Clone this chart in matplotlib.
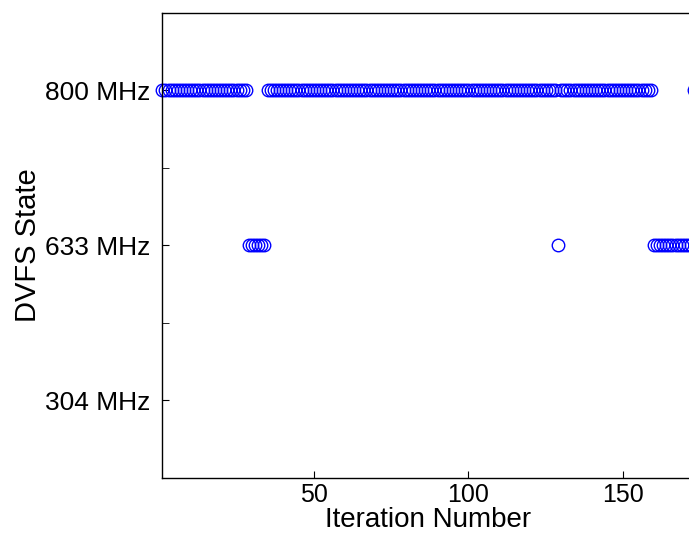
import matplotlib
matplotlib.use("Agg")
import matplotlib.pyplot as plt
import numpy as np

# DVFS state per iteration, read as runs of (state index, run length)
# state index: 1 = 304 MHz, 2 = 633 MHz, 3 = 800 MHz
run_states = [3, 2, 3, 2, 3, 2, 3]
run_lengths = [28, 6, 94, 1, 30, 13, 1]
state_labels = ['304 MHz', '633 MHz', '800 MHz']

states = np.repeat(run_states, run_lengths)
iterations = np.arange(1, len(states) + 1)

plt.rcParams['font.family'] = ['Liberation Sans', 'DejaVu Sans']

fig = plt.figure(figsize=(6.89, 5.37), dpi=100)
# axes ends just past the right edge of the figure, like the cropped original
ax = fig.add_axes([0.2357, 0.11, 0.7717, 0.8659])

ax.plot(iterations, states, linestyle='none', marker='o', markersize=9,
        markerfacecolor='none', markeredgecolor='blue', markeredgewidth=1,
        clip_on=False)

ax.set_xlim(1, len(states))
ax.set_ylim(0.5, 3.5)
ax.set_xticks([50, 100, 150])
ax.set_yticks([1, 2, 3])
ax.set_yticklabels(state_labels)
ax.set_yticks([1.5, 2.5], minor=True)

ax.tick_params(axis='both', which='both', direction='in', length=5,
               top=False, right=False)
ax.tick_params(axis='y', labelsize=19, pad=9)
ax.tick_params(axis='x', labelsize=18, pad=4)
for s in ax.spines.values():
    s.set_linewidth(1.0)

ax.set_xlabel('Iteration Number', fontsize=20, labelpad=0)
ax.set_ylabel('DVFS State', fontsize=21, labelpad=2)

fig.savefig('out.png', dpi=100)
